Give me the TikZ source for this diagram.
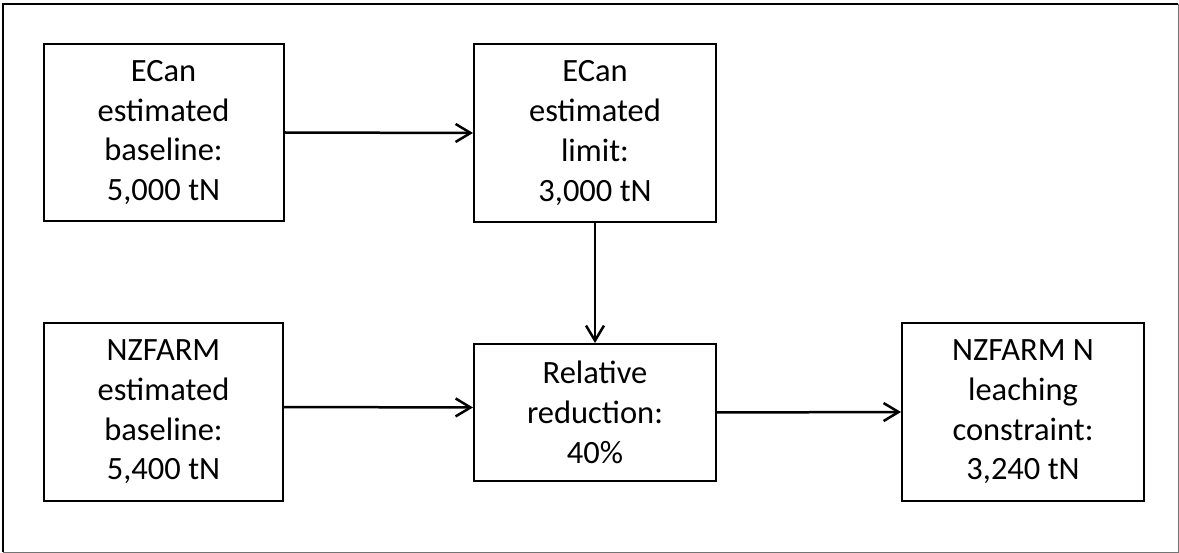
\documentclass[tikz,border=0pt]{standalone}
\usepackage{fontspec}
\setmainfont{Carlito}
\usetikzlibrary{arrows.meta}
\begin{document}
\begin{tikzpicture}[x=1pt,y=-1pt,
  box/.style={draw=black,line width=2pt,fill=white,align=center,inner sep=0pt,
    font=\fontsize{32.5}{39.7}\selectfont,text=black},
  flow/.style={line width=2.5pt,-{Straight Barb[length=15pt,width=18pt,line width=2.5pt]}}]
\useasboundingbox (0,0) rectangle (1179,553);
% outer frame
\draw[black!55,line width=1pt] (1178,4) -- (1178,552) -- (3,552);
\draw[black,line width=2.4pt] (3,552) -- (3,4) -- (1178,4);
% boxes
\node[box,minimum width=240pt,minimum height=177pt] (b1) at (163.5,132.5)
  {ECan\\estimated\\baseline:\\5,000 tN};
\node[box,minimum width=242pt,minimum height=178pt] (b2) at (595,133)
  {ECan\\estimated\\limit:\\3,000 tN};
\node[box,minimum width=239pt,minimum height=178pt] (b3) at (163.5,412)
  {NZFARM\\estimated\\baseline:\\5,400 tN};
\node[box,minimum width=242pt,minimum height=137pt] (b4) at (595,412.5)
  {Relative\\reduction:\\40\%};
\node[box,minimum width=242pt,minimum height=178pt] (b5) at (1023,412)
  {NZFARM N\\leaching\\constraint:\\3,240 tN};
% connectors
\draw[flow] (b1.east) -- (b2.west);
\draw[flow] (b2.south) -- (b4.north);
\draw[flow] ([yshift=5pt]b3.east) -- ([yshift=5pt]b4.west);
\draw[flow] (b4.east) -- (b5.west);
\end{tikzpicture}
\end{document}
